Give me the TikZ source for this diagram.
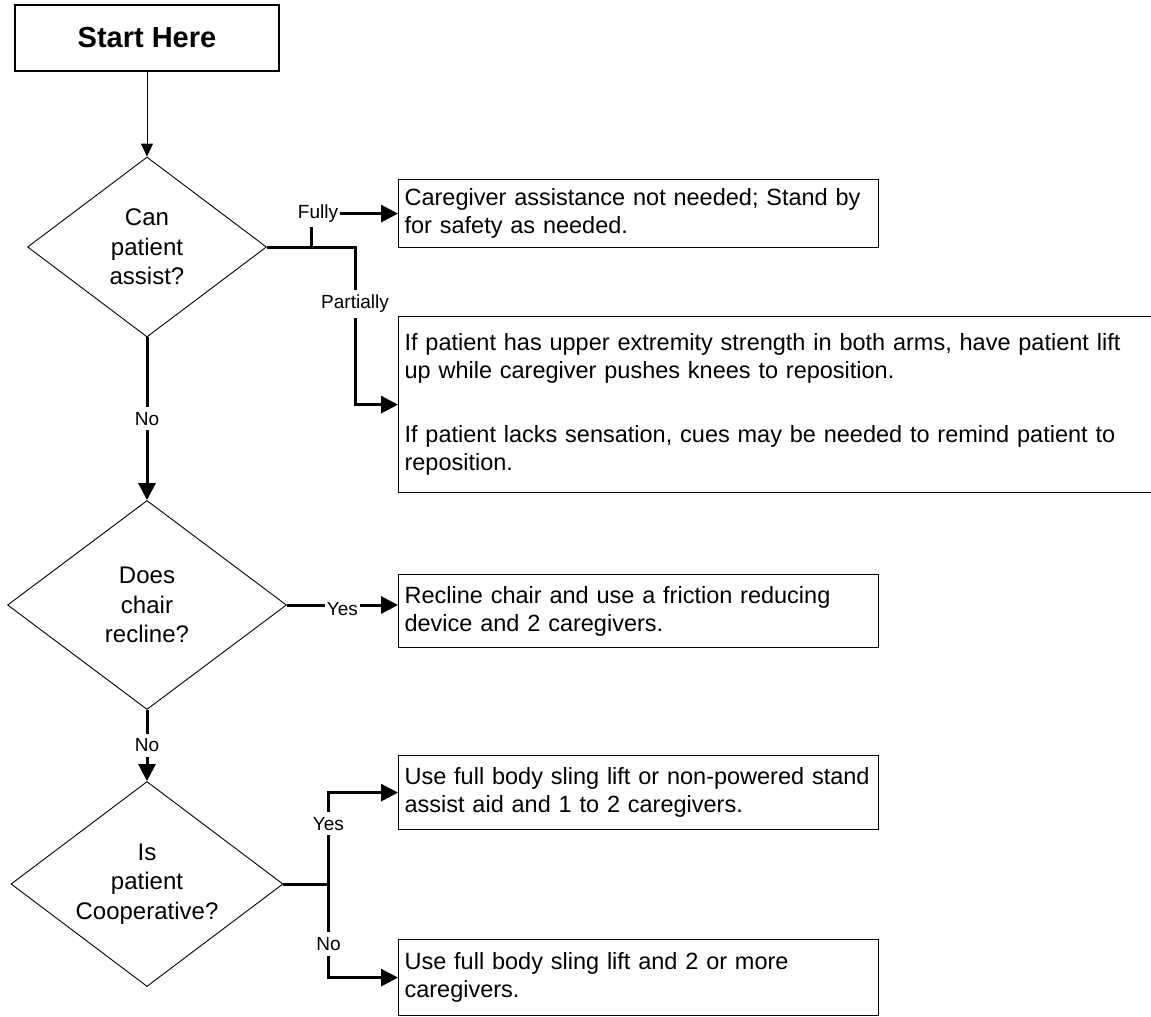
\documentclass[tikz,border=0pt]{standalone}
\usepackage{fontspec}
\setmainfont{Liberation Sans}
\usetikzlibrary{shapes.geometric,arrows.meta}

\begin{document}
\begin{tikzpicture}[x=1pt, y=-1pt,
		every node/.style={font=\fontsize{23.5}{28}\selectfont},
		box/.style={draw, line width=1.2pt, anchor=north west, align=left, inner xsep=6pt, inner ysep=0pt, text width=468pt},
		question/.style={diamond, draw, line width=.9pt, shape aspect=1.33, inner sep=0pt, align=center, font=\fontsize{24}{29.5}\selectfont},
		answer/.style={fill=white, inner xsep=2pt, inner ysep=5pt, font=\fontsize{19}{22}\selectfont},
		flow/.style={line width=3pt, -{Triangle[length=17pt,width=17pt]}}]
		\useasboundingbox (0,0) rectangle (1151,1017);

		\node[draw, line width=1.2pt, minimum width=264pt, minimum height=66pt, font=\fontsize{29}{34}\selectfont\bfseries] (start) at (147,38) {Start Here};

		\node[question, minimum width=239pt, minimum height=180pt] (assist) at (147,247) {Can\\patient\\assist?};
		\node[question, minimum width=279pt, minimum height=209pt] (recline) at (147,605) {Does\\chair\\recline?};
		\node[question, minimum width=272pt, minimum height=205pt] (coop) at (147,884) {Is\\patient\\Cooperative?};

		\node[box, minimum height=68pt] (standby) at (398,179) {Caregiver assistance not needed; Stand by\\for safety as needed.};
		\node[box, text width=745pt, minimum height=176pt] (reposition) at (398,316) {If patient has upper extremity strength in both arms, have patient lift\\up while caregiver pushes knees to reposition.\\[36pt]If patient lacks sensation, cues may be needed to remind patient to\\reposition.};
		\node[box, minimum height=73pt] (friction) at (398,574) {Recline chair and use a friction reducing\\device and 2 caregivers.};
		\node[box, minimum height=74pt] (twolift) at (398,755) {Use full body sling lift or non-powered stand\\assist aid and 1 to 2 caregivers.};
		\node[box, minimum height=76pt] (morelift) at (398,939) {Use full body sling lift and 2 or more\\caregivers.};

		\draw[line width=1pt, -{Triangle[length=13pt,width=12pt]}] (start) -- (assist);
		\draw[flow] ([xshift=45pt]assist.east) |- node[answer, pos=.5, xshift=6pt] {Fully} (standby.west);
		\draw[flow] (assist.east) -| node[answer, pos=.68] {Partially} ([xshift=-43pt]reposition.west) -- (reposition.west);
		\draw[flow] (assist) -- node[answer] {No} (recline);

		\draw[flow] (recline.east) -- node[answer, yshift=-4pt] {Yes} (recline.east -| friction.west);
		\draw[flow] (recline) -- node[answer] {No} (coop);

		\draw[flow] (coop.east) -- ++(45,0) |- node[answer, pos=.33] {Yes} (twolift.west);
		\draw[flow] (coop.east) -- ++(45,0) |- node[answer, pos=.32] {No} (morelift.west);
	\end{tikzpicture}
\end{document}
